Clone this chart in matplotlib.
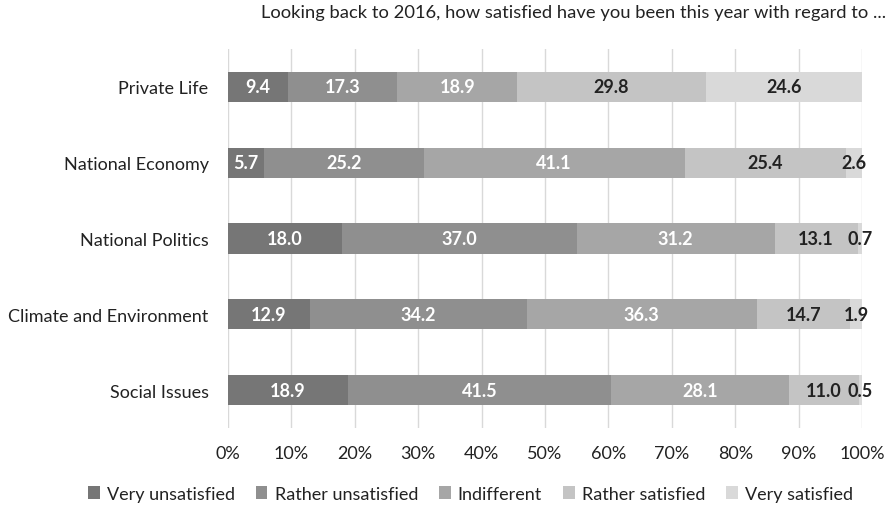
import matplotlib.pyplot as plt
from matplotlib.patches import Patch

plt.rcParams['font.family'] = ['Lato', 'DejaVu Sans']

# Survey answers, percent per topic (top to bottom)
topics = ["Private Life", "National Economy", "National Politics",
          "Climate and Environment", "Social Issues"]
levels = ["Very unsatisfied", "Rather unsatisfied", "Indifferent",
          "Rather satisfied", "Very satisfied"]
very_unsat = [9.4, 5.7, 18.0, 12.9, 18.9]
rather_unsat = [17.3, 25.2, 37.0, 34.2, 41.5]
indifferent = [18.9, 41.1, 31.2, 36.3, 28.1]
rather_sat = [29.8, 25.4, 13.1, 14.7, 11.0]
very_sat = [24.6, 2.6, 0.7, 1.9, 0.5]
xticks = [0, 10, 20, 30, 40, 50, 60, 70, 80, 90, 100]

series = [very_unsat, rather_unsat, indifferent, rather_sat, very_sat]
colors = ["#767676", "#8f8f8f", "#a6a6a6", "#c4c4c4", "#d9d9d9"]
text_colors = ["white", "white", "white", "#222222", "#222222"]

fig = plt.figure(figsize=(8.91, 5.06), dpi=100)
ax = fig.add_axes([0.2559, 0.1522, 0.7116, 0.749])

ypos = list(range(len(topics)))
left = [0.0] * len(topics)
for vals, col, tcol in zip(series, colors, text_colors):
    ax.barh(ypos, vals, left=left, height=0.4, color=col, zorder=2)
    for i, v in enumerate(vals):
        ax.text(left[i] + v / 2, ypos[i], f"{v:.1f}", ha="center", va="center",
                color=tcol, fontsize=13, fontweight="bold", zorder=3)
    left = [l + v for l, v in zip(left, vals)]

ax.set_xlim(0, 100)
ax.set_ylim(len(topics) - 0.5, -0.5)
ax.set_xticks(xticks)
ax.set_xticklabels([f"{t}%" for t in xticks])
ax.set_yticks(ypos)
ax.set_yticklabels(topics)
ax.tick_params(axis="both", length=0, labelsize=13, colors="#222222")
ax.tick_params(axis="x", pad=12)
ax.tick_params(axis="y", pad=14)
ax.grid(axis="x", color="#d9d9d9", linewidth=1, zorder=0)
for s in ax.spines.values():
    s.set_visible(False)

fig.text(0.994, 0.975, "Looking back to 2016, how satisfied have you been this year with regard to ...",
         ha="right", va="center", fontsize=13.2, color="#222222")

handles = [Patch(facecolor=c, label=l) for c, l in zip(colors, levels)]
fig.legend(handles=handles, loc="center", bbox_to_anchor=(0.528, 0.022), ncol=5,
           frameon=False, fontsize=13, handlelength=0.65, handleheight=0.65,
           handletextpad=0.4, columnspacing=1.15, labelcolor="#222222",
           borderpad=0, borderaxespad=0)

plt.savefig("out.png", dpi=100)
